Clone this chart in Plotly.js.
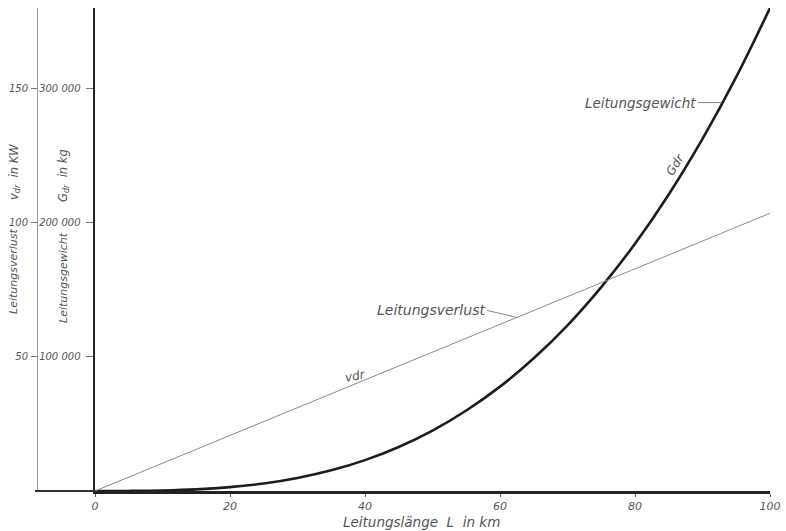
<!DOCTYPE html>
<html>
<head>
<meta charset="utf-8">
<script src="https://cdn.plot.ly/plotly-3.0.1.min.js"></script>
<style>html,body{margin:0;padding:0;background:#fff;}#chart{width:786px;height:531px;}</style>
</head>
<body>
<div id="chart"></div>
<script>
// Leitungslänge L in km
const lengthKm = [0, 5, 10, 15, 20, 25, 30, 35, 40, 45, 50, 55, 60, 65, 70, 75, 80, 85, 90, 95, 100];
// Leitungsgewicht G_dr in kg
const weightKg = [0, 50, 360, 1200, 2900, 5600, 9700, 15400, 23000, 32800, 45000, 60000, 77800, 98900, 123500, 152000, 184300, 221000, 262400, 308600, 360000];
// Leitungsverlust v_dr in KW (straight line)
const lossL = [0, 20, 40, 60, 80, 100];
const lossKW = [0, 20.7, 41.4, 62.1, 82.8, 103.5];

const kwTicks = [50, 100, 150];
const kgTicks = [100000, 200000, 300000];
const kgTickText = ['100 000', '200 000', '300 000'];
const xTicks = [0, 20, 40, 60, 80, 100];

const FONT = 'DejaVu Sans';
const TXT = '#555';
const W = 770; // plot width in px (margin l=0)
const H = 483; // plot height in px
const px = (p) => p / W;
const py = (p) => (491 - p) / H;

const traces = [
  {x: lossL, y: lossKW, yaxis: 'y2', mode: 'lines', line: {color: '#8a8a8a', width: 1}, hoverinfo: 'skip', cliponaxis: false},
  {x: lengthKm, y: weightKg, yaxis: 'y', mode: 'lines', line: {color: '#1c1c1c', width: 2.6, shape: 'spline'}, hoverinfo: 'skip', cliponaxis: false}
];

const tf = (s) => ({family: FONT, size: s, color: TXT, style: 'italic'});
const lab = (x, y, text, size, angle) => ({xref: 'paper', yref: 'paper', x: px(x), y: py(y), text: text,
  textangle: angle || 0, showarrow: false, xanchor: 'center', yanchor: 'middle', font: tf(size)});

const layout = {
  width: 786, height: 531,
  margin: {l: 0, r: 16, t: 8, b: 40},
  paper_bgcolor: '#fff', plot_bgcolor: '#fff',
  showlegend: false,
  xaxis: {
    domain: [95 / W, 1], range: [0, 100], tickvals: xTicks,
    showline: true, linewidth: 2.5, linecolor: '#222', mirror: false,
    ticks: 'outside', ticklen: 3, tickcolor: '#666', showgrid: false, zeroline: false,
    tickfont: tf(11)
  },
  yaxis: {
    range: [0, 360000], tickvals: kgTicks, ticktext: kgTickText,
    showline: true, linewidth: 2.5, linecolor: '#222',
    ticks: 'outside', ticklen: 7, tickcolor: '#777', showgrid: false, zeroline: false,
    tickfont: tf(10), ticklabelstandoff: 3
  },
  yaxis2: {
    overlaying: 'y', anchor: 'free', position: 37 / W, side: 'left',
    range: [0, 180], tickvals: kwTicks,
    showline: true, linewidth: 1, linecolor: '#999',
    ticks: 'outside', ticklen: 6, tickcolor: '#777', showgrid: false, zeroline: false,
    tickfont: tf(10), ticklabelstandoff: 1
  },
  shapes: [
    // extension of the base line to the left scale
    {type: 'line', xref: 'paper', yref: 'paper', x0: 35 / W, x1: 95 / W, y0: 0, y1: 0, line: {color: '#333', width: 2}}
  ],
  annotations: [
    lab(14, 272, 'Leitungsverlust', 11, -90),
    lab(14, 172, 'v<sub>dr</sub>  in KW', 11.5, -90),
    lab(63, 278, 'Leitungsgewicht', 11, -90),
    lab(63, 176, 'G<sub>dr</sub>  in kg', 11.5, -90),
    lab(421, 522, 'Leitungslänge  L  in km', 13.5, 0),
    {xref: 'x', yref: 'y', x: 92.9, y: 289500, ax: -24, ay: 0, text: 'Leitungsgewicht', xanchor: 'right', yanchor: 'middle',
     showarrow: true, arrowhead: 0, arrowwidth: 0.8, arrowcolor: '#666', font: tf(13.5)},
    {xref: 'x', yref: 'y2', x: 62.5, y: 64.7, ax: -30, ay: -7, text: 'Leitungsverlust', xanchor: 'right', yanchor: 'middle',
     showarrow: true, arrowhead: 0, arrowwidth: 0.8, arrowcolor: '#666', font: tf(14)},
    lab(675, 165, 'Gdr', 12, -58),
    lab(355, 376, 'vdr', 12, -10)
  ]
};

Plotly.newPlot('chart', traces, layout, {staticPlot: true, displayModeBar: false});
</script>
</body>
</html>
